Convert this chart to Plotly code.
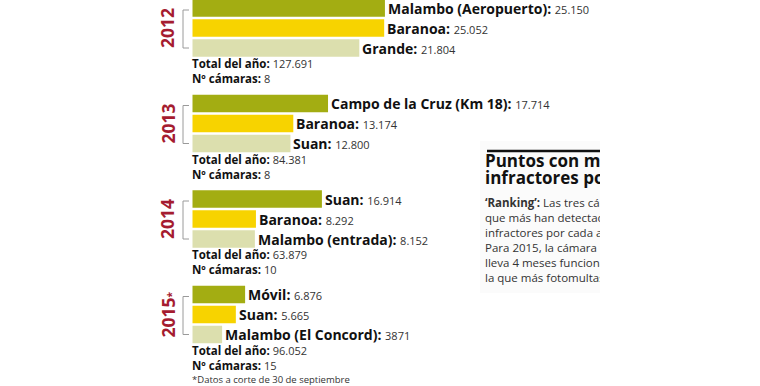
import plotly.graph_objects as go

# ---------------- data ----------------
years = ["2012", "2013", "2014", "2015"]
year_marks = ["", "", "", "*"]
names = [
    ["Malambo (Aeropuerto)", "Baranoa", "Grande"],
    ["Campo de la Cruz (Km 18)", "Baranoa", "Suan"],
    ["Suan", "Baranoa", "Malambo (entrada)"],
    ["Móvil", "Suan", "Malambo (El Concord)"],
]
values = [
    [25150, 25052, 21804],
    [17714, 13174, 12800],
    [16914, 8292, 8152],
    [6876, 5665, 3871],
]
value_labels = [
    ["25.150", "25.052", "21.804"],
    ["17.714", "13.174", "12.800"],
    ["16.914", "8.292", "8.152"],
    ["6.876", "5.665", "3871"],
]
totals = ["127.691", "84.381", "63.879", "96.052"]
cameras = ["8", "8", "10", "15"]
footnote = "*Datos a corte de 30 de septiembre"
panel_title = ["Puntos con más", "infractores por cámara"]
panel_body = [
    "<b>‘Ranking’:</b> Las tres cámaras",
    "que más han detectado",
    "infractores por cada año.",
    "Para 2015, la cámara móvil, que",
    "lleva 4 meses funcionando, es",
    "la que más fotomultas ha hecho.",
]

# ---------------- style / layout constants ----------------
W, H = 760, 386
FONT = "Open Sans"
X0 = 192.5          # pixel where bars start
K = 130.7           # value units per pixel
ROW_TOP, ROW, GROUP, BAR_W = 8, 20, 95.5, 17.5
colors = ["#a3ad12", "#f7d300", "#dcdfae"]
YEAR_COLOR = "#a51c30"

ys = [[ROW_TOP + g * GROUP + r * ROW for r in range(3)] for g in range(len(years))]

fig = go.Figure()
for r in range(3):
    fig.add_trace(go.Bar(
        x=[values[g][r] for g in range(len(years))],
        y=[ys[g][r] for g in range(len(years))],
        orientation="h", width=BAR_W,
        marker=dict(color=colors[r], line=dict(width=0)),
        hoverinfo="skip", showlegend=False,
        xaxis="x", yaxis="y",
    ))

annotations = []
shapes = []
for g in range(len(years)):
    for r in range(3):
        annotations.append(dict(
            x=values[g][r], y=ys[g][r], xref="x", yref="y",
            xanchor="left", yanchor="middle", xshift=3, showarrow=False,
            borderpad=0, borderwidth=0,
            text=f"<b>{names[g][r]}:</b> <span style='font-size:11px;color:#333'>{value_labels[g][r]}</span>",
            font=dict(family=FONT, size=14, color="#111"),
        ))
    y3 = ys[g][2]
    annotations.append(dict(
        x=0, y=y3 + 23, xref="x", yref="y", xanchor="left", yanchor="middle",
        xshift=-1, showarrow=False, align="left", borderpad=0, borderwidth=0,
        text=(f"<b>Total del año:</b> <span style='font-size:11px;color:#333'>{totals[g]}</span><br>"
              f"<b>Nº cámaras:</b> <span style='font-size:11px;color:#333'>{cameras[g]}</span>"),
        font=dict(family=FONT, size=11.5, color="#111"),
    ))
    mark = f"<span style='font-size:10px'>{year_marks[g]}</span>" if year_marks[g] else ""
    annotations.append(dict(
        x=167 / W, y=ys[g][1], xref="paper", yref="y", xanchor="center", yanchor="middle",
        textangle=-90, showarrow=False, text=f"<b>{years[g]}{mark}</b>",
        font=dict(family=FONT, size=17.5, color=YEAR_COLOR),
    ))
    yt, yb = ys[g][0] + 2, ys[g][2]
    bx0, bx1 = 183 / W, 189 / W
    shapes += [
        dict(type="line", xref="paper", yref="y", x0=bx0, x1=bx0, y0=yt, y1=yb,
             line=dict(color="#9a9a9a", width=1)),
        dict(type="line", xref="paper", yref="y", x0=bx0, x1=bx1, y0=yt, y1=yt,
             line=dict(color="#9a9a9a", width=1)),
        dict(type="line", xref="paper", yref="y", x0=bx0, x1=bx1, y0=yb, y1=yb,
             line=dict(color="#9a9a9a", width=1)),
    ]

annotations.append(dict(
    x=0, y=ys[-1][2] + 45.2, xref="x", yref="y", xanchor="left", yanchor="middle",
    xshift=-1, showarrow=False, text=footnote, borderpad=0, borderwidth=0,
    font=dict(family=FONT, size=9.5, color="#333"),
))

# ---------------- side panel (clipped at its right edge) ----------------
shapes += [
    dict(type="rect", xref="x2", yref="y2", x0=480, x1=600, y0=141, y1=293,
         fillcolor="#fbfbfb", line=dict(width=0), layer="below"),
    dict(type="line", xref="x2", yref="y2", x0=487, x1=600, y0=151, y1=151,
         line=dict(color="#111", width=2.5)),
]
fig.add_trace(go.Scatter(
    x=[485, 485], y=[162.5, 180], mode="text",
    text=[f"<b>{t}</b>" for t in panel_title], textposition="middle right",
    textfont=dict(family=FONT, size=17, color="#111"),
    cliponaxis=True, hoverinfo="skip", showlegend=False, xaxis="x2", yaxis="y2",
))
fig.add_trace(go.Scatter(
    x=[485], y=[241.5], mode="text",
    text=["<br>".join(panel_body)], textposition="middle right",
    textfont=dict(family=FONT, size=11.5, color="#333"),
    cliponaxis=True, hoverinfo="skip", showlegend=False, xaxis="x2", yaxis="y2",
))

fig.update_layout(
    width=W, height=H, margin=dict(l=0, r=0, t=0, b=0),
    paper_bgcolor="white", plot_bgcolor="rgba(0,0,0,0)",
    xaxis=dict(range=[-X0 * K, (W - X0) * K], domain=[0, 1], visible=False, fixedrange=True),
    yaxis=dict(range=[H, 0], domain=[0, 1], visible=False, fixedrange=True),
    xaxis2=dict(range=[480, 600], domain=[480 / W, 600 / W], visible=False,
                anchor="y2", fixedrange=True),
    yaxis2=dict(range=[H, 0], domain=[0, 1], visible=False, anchor="x2", fixedrange=True),
    annotations=annotations, shapes=shapes, showlegend=False,
)

fig.write_html("out.html", config={"displayModeBar": False},
               post_script="document.body.style.margin='0';document.body.style.overflow='hidden';")
